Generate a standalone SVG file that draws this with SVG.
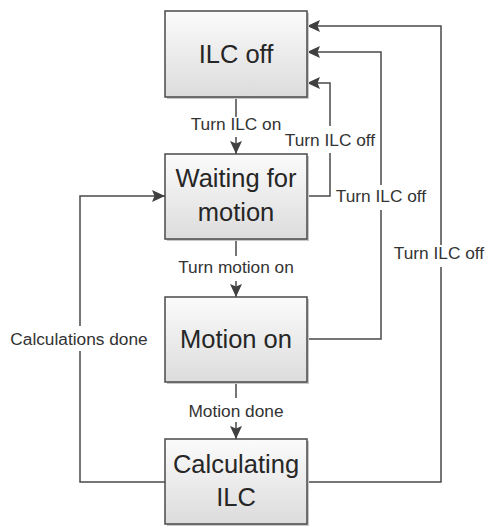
<svg xmlns="http://www.w3.org/2000/svg" width="487" height="527" viewBox="0 0 487 527">
<style>
.box{fill:url(#g);stroke:#4a4a4a;stroke-width:1.5}
.sh{fill:#c8c8c8}
.bt{font-family:"Liberation Sans",Arial,sans-serif;font-size:25.5px;fill:#262626;text-anchor:middle}
.lb{font-family:"Liberation Sans",Arial,sans-serif;font-size:17.3px;fill:#333;text-anchor:middle}
.c{fill:none;stroke:#4a4a4a;stroke-width:1.5;marker-end:url(#a)}
</style>
<defs>
<linearGradient id="g" x1="0" y1="0" x2="0" y2="1">
<stop offset="0" stop-color="#fbfbfb"/>
<stop offset="1" stop-color="#dcdcdc"/>
</linearGradient>
<marker id="a" markerUnits="userSpaceOnUse" markerWidth="14" markerHeight="14" viewBox="0 0 14 14" refX="13" refY="7" orient="auto">
<path d="M0,1 L13,7 L0,13 L2.5,7 z" fill="#404040"/>
</marker>
</defs>
<g id="connectors">
<path class="c" d="M236,97 V117 M236,137 V154"/>
<path class="c" d="M307,196 H330 V153 M330,126 V83 H307"/>
<path class="c" d="M307,339 H381 V210 M381,185 V52 H307"/>
<path class="c" d="M307,482 H441 V267 M441,245 V26 H307"/>
<path class="c" d="M165,482 H80 V351 M80,326 V196 H165"/>
<path class="c" d="M236,239 V256 M236,281 V297"/>
<path class="c" d="M236,382 V398 M236,422 V439"/>
</g>
<g id="labels">
<text class="lb" x="236" y="130">Turn ILC on</text>
<text class="lb" x="330" y="146">Turn ILC off</text>
<text class="lb" x="381" y="202">Turn ILC off</text>
<text class="lb" x="439" y="259">Turn ILC off</text>
<text class="lb" x="236" y="273">Turn motion on</text>
<text class="lb" x="79" y="345">Calculations done</text>
<text class="lb" x="236" y="417">Motion done</text>
</g>
<g id="ilc-off">
<rect class="sh" x="167" y="13" width="142" height="86"/>
<rect class="box" x="165" y="11" width="142" height="86"/>
<text class="bt" x="236" y="63">ILC off</text>
</g>
<g id="waiting">
<rect class="sh" x="167" y="156" width="142" height="85"/>
<rect class="box" x="165" y="154" width="142" height="85"/>
<text class="bt" x="236" y="187">Waiting for</text>
<text class="bt" x="236" y="221">motion</text>
</g>
<g id="motion-on">
<rect class="sh" x="167" y="299" width="142" height="85"/>
<rect class="box" x="165" y="297" width="142" height="85"/>
<text class="bt" x="236" y="348">Motion on</text>
</g>
<g id="calculating">
<rect class="sh" x="167" y="441" width="142" height="85"/>
<rect class="box" x="165" y="439" width="142" height="85"/>
<text class="bt" x="236" y="473">Calculating</text>
<text class="bt" x="236" y="506">ILC</text>
</g>
</svg>
